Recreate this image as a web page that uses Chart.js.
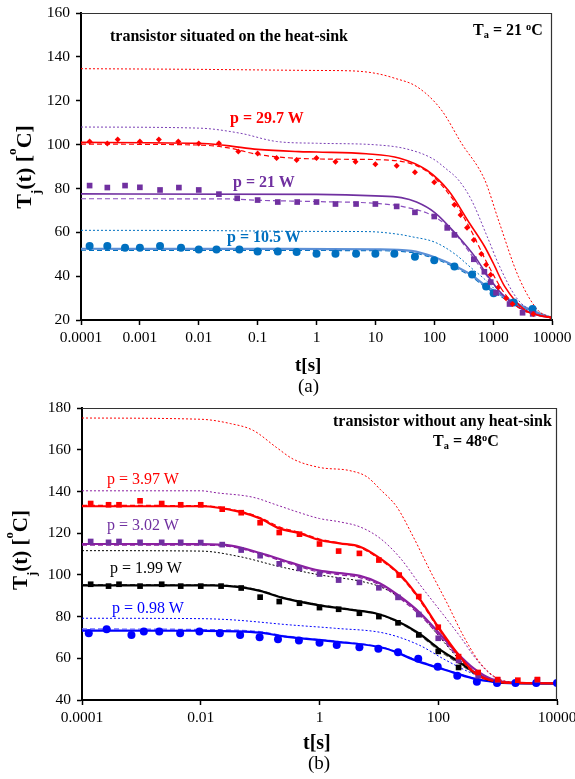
<!DOCTYPE html>
<html>
<head>
<meta charset="utf-8">
<script src="https://cdn.jsdelivr.net/npm/chart.js@4.4.1/dist/chart.umd.min.js"></script>
<style>
  body { margin: 0; background: #fff; width: 575px; height: 779px; position: relative; overflow: hidden;
         font-family: "Liberation Serif", "Times New Roman", serif; }
  canvas { position: absolute; left: 0; }
  .txt { position: absolute; white-space: nowrap; line-height: 1; font-size: 16px; color: #000; }
  .b { font-weight: bold; }
  .txt sub, .txt sup { font-size: 0.65em; line-height: 0; position: relative; vertical-align: baseline; }
  .txt sub { top: 0.3em; }
  .txt sup { top: -0.5em; }
  .ytitle { position: absolute; width: 160px; height: 24px; line-height: 24px; text-align: center;
            font-weight: bold; white-space: nowrap; transform: rotate(-90deg); }
</style>
</head>
<body>
<canvas id="chartA" width="575" height="400" style="top:0"></canvas>
<canvas id="chartB" width="575" height="384" style="top:395px"></canvas>

<!-- (a) texts -->
<div class="txt b" style="left:110px;top:28px">transistor situated on the heat-sink</div>
<div class="txt b" style="left:473px;top:22px">T<sub>a</sub> = 21 <sup>o</sup>C</div>
<div class="txt b" style="left:230px;top:110px;color:#ff0000">p = 29.7 W</div>
<div class="txt b" style="left:233px;top:174px;color:#7030a0">p = 21 W</div>
<div class="txt b" style="left:227px;top:229px;color:#0070c0">p = 10.5 W</div>
<div class="ytitle" style="left:-56px;top:155px;font-size:22px">T<sub style="font-size:0.6em;position:relative;top:0.3em;line-height:0">j</sub>(t) [<sup style="font-size:0.6em;position:relative;top:-0.5em;line-height:0">o</sup>C]</div>
<div class="txt b" style="left:295px;top:355px;font-size:19px">t[s]</div>
<div class="txt" style="left:298px;top:376px;font-size:19px">(a)</div>

<!-- (b) texts -->
<div class="txt b" style="left:333px;top:413px">transistor without any heat-sink</div>
<div class="txt b" style="left:433px;top:433px">T<sub>a</sub> = 48<sup>o</sup>C</div>
<div class="txt" style="left:107px;top:471px;color:#ff0000">p = 3.97 W</div>
<div class="txt" style="left:107px;top:517px;color:#7030a0">p = 3.02 W</div>
<div class="txt" style="left:110px;top:560px">p = 1.99 W</div>
<div class="txt" style="left:112px;top:600px;color:#0000ff">p = 0.98 W</div>
<div class="ytitle" style="left:-60px;top:538px;font-size:21px">T<sub style="font-size:0.6em;position:relative;top:0.3em;line-height:0">j</sub>(t) [<sup style="font-size:0.6em;position:relative;top:-0.5em;line-height:0">o</sup>C]</div>
<div class="txt b" style="left:303px;top:732px;font-size:20px">t[s]</div>
<div class="txt" style="left:308px;top:753px;font-size:19px">(b)</div>

<script>
// --- Data: chart (a), transistor on the heat-sink ---
const xTicksA = [0.0001, 0.001, 0.01, 0.1, 1, 10, 100, 1000, 10000];

const aRedPtsT = [1.4e-4, 2.8e-4, 4.2e-4, 1e-3, 2.1e-3, 4.5e-3, 0.01, 0.022, 0.047, 0.1, 0.21, 0.46, 1, 2.1, 4.6, 10, 23, 47, 100, 220, 280, 360, 470, 630, 760, 910, 1230, 1660, 2140, 4800, 10000];
const aRedPtsY = [101.4, 100.5, 102.3, 101.4, 102.3, 101.4, 100.5, 100.6, 96.8, 95.9, 93.9, 93.0, 93.9, 92.2, 92.2, 91.0, 90.3, 87.4, 82.8, 72.6, 67.9, 62.1, 56.5, 50.1, 45.2, 40.6, 34.9, 29.9, 27.3, 22.7, 21.0];
const aRedSolidT = [1e-4, 0.01, 0.03, 0.1, 0.5, 1, 7, 26, 74, 174, 400, 720, 1000, 1580, 3470, 6300, 10000];
const aRedSolidY = [101, 100.6, 99.5, 97.8, 96.8, 96.6, 95.8, 93.8, 88.4, 79, 64, 53.4, 46, 35.2, 24.5, 22, 21];
const aRedDashT = [1e-4, 0.01, 0.032, 0.1, 0.32, 2.9, 14.5, 69, 195, 400, 790, 1580, 3160, 10000];
const aRedDashY = [100.2, 99.8, 98.5, 95.5, 94, 93.3, 93, 88.4, 76, 62, 46, 32, 24.5, 21];
const aRedDotT = [1e-4, 0.01, 1, 4, 10, 21, 52, 132, 290, 720, 1230, 2700, 5750, 10000];
const aRedDotY = [134.6, 134.3, 133.8, 133.6, 132.5, 130.3, 126.2, 115.8, 100.6, 83.9, 65.6, 39.7, 24.5, 21];

const aPurPtsT = [1.4e-4, 2.8e-4, 5.6e-4, 1e-3, 2.2e-3, 4.6e-3, 0.01, 0.022, 0.045, 0.1, 0.22, 0.47, 1, 2.1, 4.7, 10, 23, 47, 100, 166, 220, 470, 710, 910, 1120, 1900, 3160, 4700];
const aPurPtsY = [81.3, 80.4, 81.3, 80.5, 79.3, 80.4, 79.3, 77.4, 75.5, 74.7, 73.8, 73.8, 73.8, 72.9, 72.9, 72.9, 71.8, 69.1, 67.2, 62.0, 58.8, 47.7, 42.0, 37.3, 32.4, 27.3, 23.3, 22.8];
const aPurSolidT = [1e-4, 1, 10, 27.5, 50, 102, 257, 490, 830, 1380, 2630, 5750, 10000];
const aPurSolidY = [77.5, 77.3, 76.6, 75.8, 73.8, 69, 58.0, 48.9, 39.7, 32.1, 26.0, 22.2, 21];
const aPurDashT = [1e-4, 0.032, 0.1, 1, 10, 32, 102, 224, 427, 724, 1230, 2340, 5130, 10000];
const aPurDashY = [75.3, 75.2, 74.6, 74, 73.2, 71.5, 67.1, 59.5, 49.7, 41.3, 33.6, 26.8, 23, 21];
const aPurDotT = [1e-4, 0.01, 0.05, 0.21, 1, 10, 34, 95, 158, 257, 427, 794, 1260, 2510, 5010, 10000];
const aPurDotY = [108, 107.5, 105.2, 101.4, 100.6, 99.9, 98, 93.5, 89, 83.9, 74.8, 58, 45, 30, 23.5, 21];

const aBluPtsT = [1.4e-4, 2.8e-4, 5.6e-4, 1e-3, 2.2e-3, 5e-3, 0.01, 0.02, 0.049, 0.1, 0.22, 0.46, 1, 2.1, 4.7, 10, 21, 47, 100, 220, 440, 760, 1020, 2240, 4680];
const aBluPtsY = [53.8, 53.8, 53.0, 53.0, 53.8, 53.0, 52.1, 52.1, 52.1, 51.2, 51.2, 51.0, 50.2, 50.2, 50.2, 50.2, 50.2, 48.8, 47.3, 44.4, 40.7, 35.3, 32.2, 28.0, 25.0];
const aBluSolidT = [1e-4, 0.29, 10, 41, 102, 224, 427, 724, 1380, 2630, 5750, 10000];
const aBluSolidY = [52.5, 52.4, 52.2, 51.5, 48.6, 44.6, 40.5, 35.9, 31.3, 27.3, 23.3, 21];
const aBluDashY = [51.8, 51.7, 51.6, 50.8, 48, 44, 39.8, 35.2, 30.5, 26.6, 23, 21];
const aBluDotT = [1e-4, 0.01, 1, 7.6, 26, 41, 102, 224, 427, 724, 1380, 3020, 6610, 10000];
const aBluDotY = [60.9, 60.8, 60.4, 60.3, 59, 58.0, 55.5, 50.1, 43.7, 38.5, 31.3, 26, 22.2, 21];

// --- Data: chart (b), transistor without heat-sink ---
const xTicksB = [0.0001, 0.01, 1, 100, 10000];

const bRedPtsT = [1.4e-4, 2.8e-4, 4.2e-4, 9.5e-4, 2.2e-3, 4.6e-3, 0.01, 0.023, 0.048, 0.1, 0.21, 0.46, 1, 2.1, 4.7, 10, 22, 47, 100, 220, 470, 1000, 2190, 4680];
const bRedPtsY = [134.2, 133.6, 133.6, 135.5, 134.2, 133.6, 133.6, 131.5, 129.8, 125.0, 120.3, 119.5, 114.8, 111.4, 110.3, 107.1, 99.9, 89.6, 74.9, 60.8, 53.2, 49.8, 49.5, 49.8];
const bRedLineT = [1e-4, 0.01, 0.046, 0.1, 0.21, 0.47, 1, 2.2, 4.8, 10.5, 23, 50, 100, 220, 427, 955, 2000, 10000];
const bRedSolidY = [132.9, 132.9, 130.2, 127, 122.3, 119.9, 116.7, 115.1, 113.5, 107.9, 99.9, 88, 75, 61.6, 52.6, 48.8, 48.2, 48];
const bRedDashY = [133.3, 133.2, 130.5, 127.5, 123, 120.3, 117.2, 115.2, 113, 107.3, 99.3, 87.3, 74.3, 61, 52.2, 48.7, 48.1, 48];
const bRedDotT = [1e-4, 0.01, 0.032, 0.076, 0.19, 0.36, 1, 3.2, 6.3, 10.5, 20, 38, 72, 141, 269, 513, 977, 1860, 10000];
const bRedDotY = [175.2, 174.6, 172.5, 169.3, 161, 155.5, 151.5, 150, 147, 141, 132.6, 118.2, 102.3, 86.4, 70.4, 57.6, 50.5, 48.5, 48];

const bPurPtsT = [1.4e-4, 2.8e-4, 4.2e-4, 9.5e-4, 2.2e-3, 4.6e-3, 0.01, 0.023, 0.048, 0.1, 0.21, 0.46, 1, 2.1, 4.7, 10, 21, 47, 100, 220, 470, 1000, 4680];
const bPurPtsY = [116.0, 115.6, 116.0, 115.6, 115.6, 115.6, 115.5, 114.5, 111.9, 109.2, 105.3, 103.1, 100.4, 97.5, 96.4, 93.8, 89.2, 81.0, 69.6, 59.0, 51.6, 49.6, 49.6];
const bPurLineT = [1e-4, 0.01, 0.032, 0.1, 0.32, 1, 2.2, 4.8, 10.5, 23, 50, 100, 200, 400, 790, 1580, 10000];
const bPurSolidY = [114.8, 114.7, 114, 110.5, 106, 102, 100.8, 99.5, 95.9, 89.5, 81.6, 72.5, 63, 55, 50, 48.3, 48];
const bPurDashY = [114.3, 114.2, 113.5, 110, 105.3, 101.3, 100, 98.7, 95, 88.5, 80.5, 71.3, 61.8, 54, 49.5, 48.2, 48];
const bPurDotT = [1e-4, 0.01, 0.019, 0.076, 0.19, 0.5, 1, 2.2, 4.8, 10.5, 23, 50, 110, 234, 447, 851, 1450, 10000];
const bPurDotY = [140.3, 140.3, 139.3, 137.2, 133.5, 129.5, 127, 125.4, 123, 117.5, 108, 95, 82.5, 70.4, 59.2, 51.2, 48.8, 48];

const bBlkPtsT = [1.4e-4, 2.8e-4, 4.2e-4, 9.5e-4, 2.2e-3, 4.6e-3, 0.01, 0.022, 0.048, 0.1, 0.21, 0.46, 1, 2.1, 4.7, 10, 21, 47, 100, 220];
const bBlkPtsY = [95.5, 94.6, 95.5, 94.6, 95.5, 94.6, 94.6, 94.6, 93.7, 89.3, 87.2, 86.4, 84.3, 83.5, 81.6, 80.0, 77.0, 71.2, 63.3, 55.6];
const bBlkLineT = [1e-4, 0.016, 0.05, 0.1, 0.26, 0.95, 3.5, 8.7, 18.6, 47, 100, 220, 480, 910, 1580, 10000];
const bBlkSolidY = [95, 95, 94, 92.3, 88.7, 85.5, 83.2, 81.6, 78.4, 72.0, 64.8, 58.4, 52, 48.8, 48.2, 48];
const bBlkDashY = [95.3, 95.2, 94.3, 92.6, 89, 85.8, 83.5, 81.5, 78, 71.4, 64, 57.6, 51.5, 48.6, 48.1, 48];
const bBlkDotT = [1e-4, 0.01, 0.046, 0.21, 1, 4.8, 10.5, 23, 50, 107, 234, 513, 1000, 10000];
const bBlkDotY = [111.6, 111.4, 108.7, 104, 100, 97, 94.3, 89, 81, 70, 59, 51, 48.6, 48];

const bBluPtsT = [1.3e-4, 2.6e-4, 6.8e-4, 1.1e-3, 2e-3, 4.5e-3, 9.5e-3, 0.021, 0.046, 0.098, 0.2, 0.45, 1, 1.95, 4.7, 9.8, 21, 46, 98, 209, 447, 977, 2000, 4470, 10000];
const bBluPtsY = [72.0, 73.9, 71.2, 72.8, 72.8, 72.0, 72.8, 72.0, 71.2, 70.1, 69.1, 68.5, 67.5, 66.4, 65.3, 64.6, 62.9, 59.8, 56.0, 51.6, 48.8, 48.1, 48.1, 48.1, 48.1];
const bBluLineT = [1e-4, 0.01, 0.1, 0.26, 1.8, 12.6, 47, 132, 372, 912, 1580, 10000];
const bBluSolidY = [73.3, 73.2, 72.3, 70.4, 68, 64.8, 58.4, 54.4, 50.5, 48.6, 48.1, 48];
const bBluDashY = [74.1, 73.8, 72.8, 70.8, 68.3, 65, 58.8, 54.6, 50.6, 48.6, 48.1, 48];
const bBluDotT = [1e-4, 0.01, 0.035, 0.32, 1.8, 12.6, 47, 132, 372, 794, 1580, 10000];
const bBluDotY = [79.2, 79, 78.4, 76, 74.4, 72, 66.4, 59.2, 52.8, 49.6, 48.3, 48];

// --- Helpers ---
const pairs = (t, y) => t.map((v, i) => ({ x: v, y: y[i] }));

const STYLES = {
  solid:  { borderWidth: 1.6, borderDash: [] },
  thick:  { borderWidth: 2.2, borderDash: [] },
  dashed: { borderWidth: 1.2, borderDash: [5, 3] },
  dotted: { borderWidth: 1, borderDash: [2, 2] }
};

function line(t, y, color, style) {
  return Object.assign({
    data: pairs(t, y),
    borderColor: color,
    pointRadius: 0,
    fill: false,
    cubicInterpolationMode: "monotone"
  }, STYLES[style]);
}

function points(t, y, color, shape, r) {
  return {
    data: pairs(t, y),
    showLine: false,
    pointStyle: shape,
    pointRadius: r,
    pointBackgroundColor: color,
    pointBorderColor: color,
    pointBorderWidth: 0
  };
}

// top + right border of the plot box
const frame = {
  id: "frame",
  afterDraw(chart) {
    const { ctx, chartArea: a } = chart;
    ctx.save();
    ctx.strokeStyle = "#333";
    ctx.lineWidth = 1.2;
    ctx.beginPath();
    ctx.moveTo(a.left, a.top + 0.5);
    ctx.lineTo(a.right - 0.5, a.top + 0.5);
    ctx.lineTo(a.right - 0.5, a.bottom);
    ctx.stroke();
    ctx.restore();
  }
};

const tickFont = { family: "'Liberation Serif', 'Times New Roman', serif", size: 15.5 };

function options(cfg) {
  return {
    responsive: false,
    animation: false,
    devicePixelRatio: 1,
    layout: { padding: { top: cfg.padTop, right: cfg.padRight, left: 0, bottom: 0 } },
    plugins: { legend: { display: false }, tooltip: { enabled: false } },
    scales: {
      x: {
        type: "logarithmic",
        min: 1e-4, max: 1e4,
        afterBuildTicks: s => { s.ticks = cfg.xTicks.map(v => ({ value: v })); },
        afterFit: s => { s.height = cfg.xHeight; s.paddingLeft = 0; s.paddingRight = 0; },
        ticks: { callback: v => String(v), font: tickFont, color: "#000", maxRotation: 0, autoSkip: false, padding: 4 },
        grid: { drawOnChartArea: false, tickLength: 5, color: "#000", tickWidth: 1.5 },
        border: { color: "#000", width: 2 }
      },
      y: {
        min: cfg.yMin, max: cfg.yMax,
        afterFit: s => { s.width = cfg.yWidth; s.paddingTop = 0; s.paddingBottom = 0; },
        ticks: { stepSize: 20, font: tickFont, color: "#000", padding: 6 },
        grid: { drawOnChartArea: false, tickLength: 5, color: "#000", tickWidth: 1.5 },
        border: { color: "#000", width: 2 }
      }
    }
  };
}

// --- Chart (a) ---
const RED = "#ff0000", PUR = "#7030a0", BLU_A = "#0070c0";
new Chart(document.getElementById("chartA"), {
  type: "line",
  data: {
    datasets: [
      points(aRedPtsT, aRedPtsY, RED, "rectRot", 3),
      points(aPurPtsT, aPurPtsY, PUR, "rect", 4),
      points(aBluPtsT, aBluPtsY, BLU_A, "circle", 4),
      line(aRedSolidT, aRedSolidY, RED, "solid"),
      line(aRedDashT, aRedDashY, RED, "dashed"),
      line(aRedDotT, aRedDotY, RED, "dotted"),
      line(aPurSolidT, aPurSolidY, PUR, "solid"),
      line(aPurDashT, aPurDashY, "#8a4fbf", "dashed"),
      line(aPurDotT, aPurDotY, "#7a3fb5", "dotted"),
      line(aBluSolidT, aBluSolidY, "#5b8fd6", "thick"),
      line(aBluSolidT, aBluDashY, BLU_A, "dashed"),
      line(aBluDotT, aBluDotY, BLU_A, "dotted")
    ]
  },
  options: options({ padTop: 13, padRight: 23, xHeight: 80, yWidth: 81, yMin: 20, yMax: 160, xTicks: xTicksA }),
  plugins: [frame]
});

// --- Chart (b) ---
const BLU_B = "#0000ff", BPUR = "#8b1fa0";
new Chart(document.getElementById("chartB"), {
  type: "line",
  data: {
    datasets: [
      points(bRedPtsT, bRedPtsY, RED, "rect", 4),
      points(bPurPtsT, bPurPtsY, PUR, "rect", 4),
      points(bBlkPtsT, bBlkPtsY, "#000", "rect", 4),
      points(bBluPtsT, bBluPtsY, BLU_B, "circle", 4),
      line(bRedLineT, bRedSolidY, RED, "thick"),
      line(bRedLineT, bRedDashY, RED, "dashed"),
      line(bRedDotT, bRedDotY, RED, "dotted"),
      line(bPurLineT, bPurSolidY, BPUR, "thick"),
      line(bPurLineT, bPurDashY, BPUR, "dashed"),
      line(bPurDotT, bPurDotY, BPUR, "dotted"),
      line(bBlkLineT, bBlkSolidY, "#000", "thick"),
      line(bBlkLineT, bBlkDashY, "#555", "dashed"),
      line(bBlkDotT, bBlkDotY, "#000", "dotted"),
      line(bBluLineT, bBluSolidY, BLU_B, "thick"),
      line(bBluLineT, bBluDashY, "#6a6aff", "dashed"),
      line(bBluDotT, bBluDotY, BLU_B, "dotted")
    ]
  },
  options: options({ padTop: 13, padRight: 18, xHeight: 79, yWidth: 82, yMin: 40, yMax: 180, xTicks: xTicksB }),
  plugins: [frame]
});
</script>
</body>
</html>
